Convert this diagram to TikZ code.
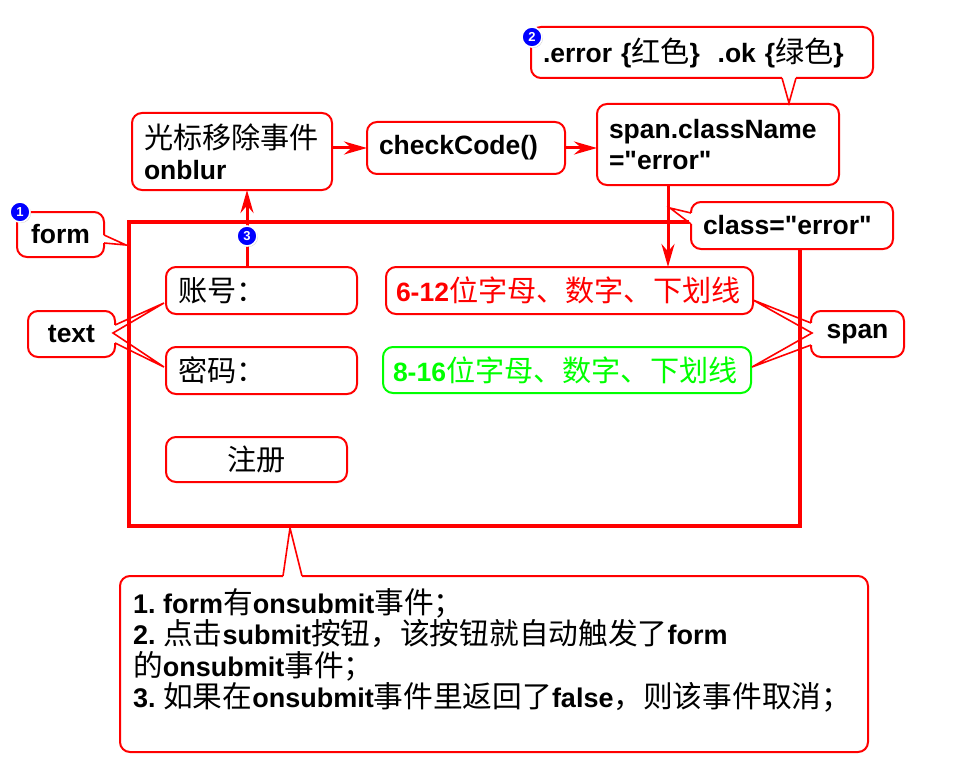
\documentclass[tikz,border=0pt]{standalone}
\usepackage{fontspec}
\setmainfont{Liberation Sans}
\newfontfamily\cjk[Scale=1.1]{Noto Sans CJK SC}
\newcommand{\zh}[1]{{\cjk\mdseries #1}}
\usepackage{xcolor}
\usepackage{tikz}
\usetikzlibrary{arrows.meta}
\usetikzlibrary{positioning, calc, shadows}
\frenchspacing
\definecolor{okgreen}{RGB}{0,255,0}
\tikzstyle{box} = [rectangle, rounded corners=10pt, draw=red, line width=2pt, fill=white, outer sep=0pt, inner xsep=12pt, inner ysep=0pt, font=\fontsize{26.5}{31}\selectfont\bfseries, align=left]
\tikzstyle{wedge} = [draw=red, line width=1.6pt, line join=miter]
\tikzstyle{opening} = [draw=white, line width=3.2pt]
\tikzstyle{arrow} = [red, line width=3pt, -{Stealth[length=23pt, width=13pt]}]
\tikzstyle{badge} = [circle, fill=blue, draw=white, line width=1.6pt, minimum size=20pt, inner sep=0pt, text=white, font=\fontsize{13}{13}\selectfont\bfseries, drop shadow={shadow xshift=1pt, shadow yshift=-1pt, opacity=0.35}]

\begin{document}
\begin{tikzpicture}[x=1pt, y=-1pt]
    \useasboundingbox (0,0) rectangle (964,781);
    \node (formbox) [draw=red, line width=3.5pt, minimum width=671, minimum height=304, outer sep=0pt] at (464.5,374) {};
    % inside the form
    \node (acct) [box, text width=167pt, minimum height=47] at (261.5,290.5) {\zh{账号：}};
    \node (pwd) [box, text width=167pt, minimum height=47, below=33pt of acct] {\zh{密码：}};
    \node (reg) [box, text width=157pt, minimum height=45, align=center, below=43pt of pwd.south west, anchor=north west] {\zh{注册}};
    \node (rule1) [box, inner xsep=10pt, text width=347pt, minimum height=47, text=red] at (569.5,290.5) {\mbox{6-12\zh{位字母、数字、下划线}}};
    \node (rule2) [box, inner xsep=10pt, draw=okgreen, text=okgreen, text width=348pt, minimum height=46, below=33pt of rule1.south west, anchor=north west, xshift=-3pt] {\mbox{8-16\zh{位字母、数字、下划线}}};
    % event chain
    \node (onblur) [box, text width=176pt, minimum height=77] at (232,151.5) {\zh{光标移除事件}\\onblur};
    \node (check) [box, text width=174pt, minimum height=52] at (466,148) {checkCode()};
    \node (span) [box, text width=218pt, minimum height=81] at (718,144.5) {span.className\\=\textquotedbl error\textquotedbl};
    % callouts
    \node (errc) [box, text width=318pt, minimum height=51] at (702,52.5) {.error \{\zh{红色}\}\ \ .ok \{\zh{绿色}\}};
    \node (clsc) [box, text width=178pt, minimum height=47] at (792,225.5) {class=\textquotedbl error\textquotedbl};
    \node (formc) [box, minimum width=87, minimum height=45, inner xsep=0pt, align=center] at (60.5,234.5) {form};
    \node (textc) [box, minimum width=87, minimum height=46, inner xsep=0pt, align=center] at (71.5,334) {text};
    \node (spanc) [box, minimum width=93, minimum height=46, inner xsep=0pt, align=center] at (857.5,334) {span};
    \node (note) [box, minimum width=748, minimum height=176] at (494,664) {};
    \node (notetext) [anchor=north west, align=left, inner sep=0pt, font=\fontsize{27}{31.5}\selectfont\bfseries] at (133,588) {1. form\zh{有}onsubmit\zh{事件；}\\2. \zh{点击}submit\zh{按钮，该按钮就自动触发了}form\\\zh{的}onsubmit\zh{事件；}\\3. \zh{如果在}onsubmit\zh{事件里返回了}false\zh{，则该事件取消；}};
    % pointers
    \coordinate (formtip) at (126,245);
    \draw [opening] ($(formc.east)+(0,0.5)$) -- ($(formc.east)+(0,8.5)$);
    \draw [wedge] ($(formc.east)+(0,0.5)$) -- (formtip) -- ($(formc.east)+(0,8.5)$);
    \coordinate (texttip1) at (164,303);
    \coordinate (texttip2) at (164,367);
    \draw [opening] ($(textc.east)+(0,-9)$) -- ($(textc.east)+(0,9)$);
    \draw [wedge] ($(textc.east)+(0,-9)$) -- (texttip1) -- ($(textc.east)+(-2,-1)$) -- (texttip2) -- ($(textc.east)+(0,9)$);
    \coordinate (spantip1) at (753,300);
    \coordinate (spantip2) at (752,367);
    \draw [opening] ($(spanc.west)+(0,-11)$) -- ($(spanc.west)+(0,11)$);
    \draw [wedge] ($(spanc.west)+(0,-11)$) -- (spantip1) -- ($(spanc.west)+(1,-1)$) -- (spantip2) -- ($(spanc.west)+(0,11)$);
    \draw [opening] ($(errc.south)+(80,0)$) -- ($(errc.south)+(94,0)$);
    \draw [wedge] ($(errc.south)+(80,0)$) -- ($(span.north)+(71,-1)$) -- ($(errc.south)+(94,0)$);
    \coordinate (clstip) at (670,208);
    \draw [opening] ($(clsc.west)+(0,-12.5)$) -- ($(clsc.west)+(0,-1.5)$);
    \draw [wedge] ($(clsc.west)+(0,-12.5)$) -- (clstip) -- ($(clsc.west)+(0,-1.5)$);
    \coordinate (notetip) at (290,528);
    \draw [opening] ($(note.north)+(-211,0)$) -- ($(note.north)+(-192,0)$);
    \draw [wedge] ($(note.north)+(-211,0)$) -- (notetip) -- ($(note.north)+(-192,0)$);
    % arrows
    \draw [arrow] (onblur.east |- check.west) -- (check.west);
    \draw [arrow] (check.east) -- (check.east -| span.west);
    \coordinate (drop) at (668,0);
    \draw [arrow] (span.south -| drop) -- (rule1.north -| drop);
    \coordinate (rise) at (247,0);
    \draw [arrow] (acct.north -| rise) -- (onblur.south -| rise);
    % badges
    \node (b1) [badge] at (20,212) {1};
    \node (b2) [badge] at (532,37) {2};
    \node (b3) [badge] at (247,236) {3};
\end{tikzpicture}
\end{document}
